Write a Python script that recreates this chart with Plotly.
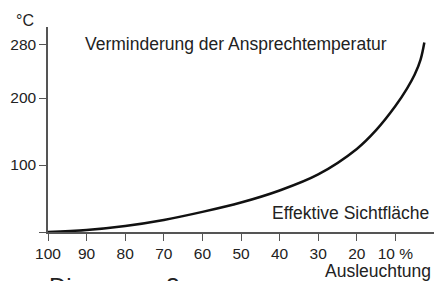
import plotly.graph_objects as go

# Data
illum_pct = [100, 90, 80, 70, 60, 50, 40, 30, 20, 15, 10, 7, 5, 3.5, 2.5]
temp_c = [0, 3, 9, 18, 30, 44, 62, 86, 124, 152, 188, 214, 235, 257, 283]

x_tick_vals = [100, 90, 80, 70, 60, 50, 40, 30, 20, 10]
x_tick_text = ["100", "90", "80", "70", "60", "50", "40", "30", "20", "10 %"]
y_tick_vals = [0, 100, 200, 280]
y_tick_text = ["", "100", "200", "280"]

FONT = "Liberation Sans, Arial, Helvetica, sans-serif"
TXT = "#222222"
AX = "#555555"
ANN = 17.5

fig = go.Figure()
fig.add_trace(go.Scatter(
    x=illum_pct, y=temp_c, mode="lines",
    line=dict(color="#111111", width=2.5, shape="spline", smoothing=1.0),
    hoverinfo="skip", showlegend=False,
))

fig.update_layout(
    width=434, height=281,
    margin=dict(l=48, r=0, t=27, b=49),
    paper_bgcolor="white", plot_bgcolor="white",
    font=dict(family=FONT, size=15, color=TXT),
    showlegend=False,
    xaxis=dict(
        range=[100, 0], showgrid=False, zeroline=False,
        showline=True, linecolor=AX, linewidth=1.5,
        ticks="outside", ticklen=7, tickwidth=1.2, tickcolor=AX,
        tickvals=x_tick_vals, ticktext=x_tick_text,
        tickfont=dict(family=FONT, size=15.5, color=TXT),
        fixedrange=True,
    ),
    yaxis=dict(
        range=[0, 306], showgrid=False, zeroline=False,
        showline=True, linecolor=AX, linewidth=1.5,
        ticks="outside", ticklen=7, tickwidth=1.2, tickcolor=AX,
        tickvals=y_tick_vals, ticktext=y_tick_text,
        tickfont=dict(family=FONT, size=15.5, color=TXT),
        fixedrange=True,
    ),
    annotations=[
        dict(text="Verminderung der Ansprechtemperatur", xref="paper", yref="paper",
             x=0.0907, y=0.917, xanchor="left", yanchor="middle", showarrow=False,
             font=dict(family=FONT, size=ANN, color=TXT)),
        dict(text="Effektive Sichtfläche", xref="paper", yref="paper",
             x=0.992, y=0.093, xanchor="right", yanchor="middle", showarrow=False,
             font=dict(family=FONT, size=ANN, color=TXT)),
        dict(text="Ausleuchtung", xref="paper", yref="paper",
             x=0.997, y=-0.19, xanchor="right", yanchor="middle", showarrow=False,
             font=dict(family=FONT, size=ANN, color=TXT)),
        dict(text="°C", xref="paper", yref="paper",
             x=-0.06, y=1.034, xanchor="center", yanchor="middle", showarrow=False,
             font=dict(family=FONT, size=16, color=TXT)),
        dict(text="Diagramm 3", xref="paper", yref="paper",
             x=-0.003, y=-0.264, xanchor="left", yanchor="middle", showarrow=False,
             font=dict(family=FONT, size=24, color=TXT)),
    ],
)

fig.write_html("out.html", config={"displayModeBar": False},
               post_script="document.body.style.margin='0';document.body.style.overflow='hidden';")
